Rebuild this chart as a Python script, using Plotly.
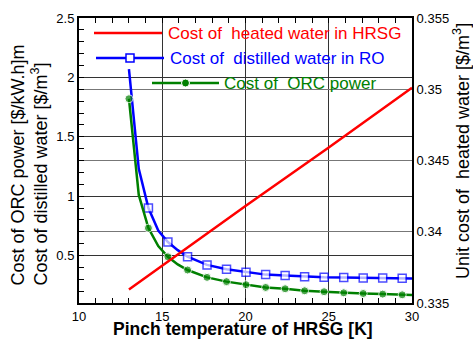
import plotly.graph_objects as go

# ---------------- data ----------------
pinch_ro = [13, 13.59, 14.17, 14.76, 15.34, 15.93, 16.52, 17.69, 18.86, 20.03, 21.21,
            22.38, 23.55, 24.72, 25.9, 27.07, 28.24, 29.41, 30]
cost_ro = [2.07, 1.23, 0.90, 0.71, 0.613, 0.545, 0.49, 0.421, 0.384, 0.359, 0.339,
           0.331, 0.322, 0.316, 0.314, 0.311, 0.311, 0.308, 0.307]
cost_orc = [1.82, 1.01, 0.731, 0.58, 0.489, 0.425, 0.378, 0.316, 0.28, 0.254, 0.231,
            0.22, 0.203, 0.195, 0.186, 0.18, 0.175, 0.169, 0.167]
marker_ro = [0, 0, 1, 0, 1, 0, 1, 1, 1, 1, 1, 1, 1, 1, 1, 1, 1, 1, 0]
marker_orc = [1, 0, 1, 0, 1, 0, 1, 1, 1, 1, 1, 1, 1, 1, 1, 1, 1, 1, 0]

pinch_hrsg = [13, 20, 25, 30]
cost_hrsg = [0.33594, 0.34181, 0.34591, 0.3501]

x_ticks = [10, 15, 20, 25, 30]
y_left_ticks = [0.5, 1, 1.5, 2, 2.5]
y_right_ticks = [0.335, 0.34, 0.345, 0.35, 0.355]

legend_names = ["Cost of\u00a0 heated water in HRSG",
                "Cost of\u00a0 distilled water in RO",
                "Cost of\u00a0 ORC power"]
RED, BLUE, GREEN = "#ff0000", "#0000ff", "#008000"
FONT = "Liberation Sans, Arial, sans-serif"

W, H = 473, 339
ML, MR, MT, MB = 79, 61, 18, 36
PW, PH = W - ML - MR, H - MT - MB


def px(x):
    return (x - ML) / PW


def py(y):
    return (H - MB - y) / PH


fig = go.Figure()

fig.add_trace(go.Scatter(
    x=pinch_ro, y=cost_ro, mode="lines+markers", name=legend_names[1],
    line=dict(color=BLUE, width=2.5),
    marker=dict(symbol="square", size=[8 * m for m in marker_ro], color="white",
                line=dict(color=BLUE, width=1.5)),
    yaxis="y", showlegend=False))

fig.add_trace(go.Scatter(
    x=pinch_ro, y=cost_orc, mode="lines+markers", name=legend_names[2],
    line=dict(color=GREEN, width=2.5),
    marker=dict(symbol="circle", size=[8 * m for m in marker_orc], color=GREEN,
                line=dict(color="white", width=1)),
    yaxis="y", showlegend=False))

fig.add_trace(go.Scatter(
    x=pinch_hrsg, y=cost_hrsg, mode="lines", name=legend_names[0],
    line=dict(color=RED, width=2.5), yaxis="y2", showlegend=False))

# ---------------- hand-drawn legend (as in the reference) ----------------
shapes = [
    dict(type="rect", xref="paper", yref="paper", x0=px(150), x1=px(375),
         y0=py(96), y1=1, fillcolor="white", line=dict(width=0), layer="below"),
]
rows = [
    (RED, 94, 162, 33, None, 166),
    (BLUE, 96, 164, 58, "square", 168),
    (GREEN, 152, 219, 83, "circle", 222),
]
annotations = []
for (col, xa, xb, yy, mk, xt), name in zip(rows, legend_names):
    shapes.append(dict(type="line", xref="paper", yref="paper", x0=px(xa), x1=px(xb),
                       y0=py(yy), y1=py(yy), line=dict(color=col, width=2.5), layer="above"))
    xm = (xa + xb) / 2
    if mk == "square":
        shapes.append(dict(type="rect", xref="paper", yref="paper",
                           x0=px(xm - 4), x1=px(xm + 4), y0=py(yy + 4), y1=py(yy - 4),
                           fillcolor="white", line=dict(color=col, width=1.5), layer="above"))
    elif mk == "circle":
        shapes.append(dict(type="circle", xref="paper", yref="paper",
                           x0=px(xm - 4), x1=px(xm + 4), y0=py(yy + 4), y1=py(yy - 4),
                           fillcolor=col, line=dict(color="white", width=1), layer="above"))
    annotations.append(dict(xref="paper", yref="paper", x=px(xt), y=py(yy),
                            xanchor="left", yanchor="middle", showarrow=False,
                            text=name, font=dict(size=17, color=col, family=FONT)))

# axis titles
annotations.append(dict(
    xref="paper", yref="paper", x=px(28.5), y=py(165), xanchor="center", yanchor="middle",
    textangle=-90, align="left", showarrow=False,
    text="Cost of ORC power [$/kW.h]m<br>Cost of distilled water [$/m<sup>3</sup>]",
    font=dict(size=18, color="black", family=FONT)))
annotations.append(dict(
    xref="paper", yref="paper", x=px(461), y=py(151), xanchor="center", yanchor="middle",
    textangle=-90, showarrow=False,
    text="Unit cost of\u00a0 heated water [$/m<sup>3</sup>]",
    font=dict(size=18, color="black", family=FONT)))
annotations.append(dict(
    xref="paper", yref="paper", x=px(243), y=py(328.5), xanchor="center", yanchor="middle",
    showarrow=False, text="<b>Pinch temperature of HRSG [K]</b>",
    font=dict(size=17.5, color="black", family=FONT)))

fig.update_layout(
    width=W, height=H,
    margin=dict(l=ML, r=MR, t=MT, b=MB, pad=0),
    paper_bgcolor="white", plot_bgcolor="white",
    font=dict(family=FONT, size=13, color="black"),
    showlegend=False,
    shapes=shapes, annotations=annotations,
    xaxis=dict(
        range=[10, 30], tickvals=x_ticks, ticks="inside", ticklen=5, tickwidth=1,
        tickcolor="black", showline=True, linecolor="black", linewidth=2, mirror="ticks",
        showgrid=True, gridcolor="#333333", gridwidth=1, zeroline=False,
        minor=dict(dtick=1, tick0=10, ticks="inside", ticklen=5, tickcolor="black", showgrid=False),
        tickfont=dict(size=13), automargin=False),
    yaxis=dict(
        range=[0.1, 2.5], tickvals=y_left_ticks, ticks="inside", ticklen=5, tickwidth=1,
        tickcolor="black", showline=True, linecolor="black", linewidth=2, mirror=False,
        showgrid=True, gridcolor="#333333", gridwidth=1, zeroline=False,
        minor=dict(dtick=0.1, tick0=0, ticks="inside", ticklen=5, tickcolor="black", showgrid=False),
        tickfont=dict(size=13), automargin=False),
    yaxis2=dict(
        range=[0.335, 0.355], tickvals=y_right_ticks, overlaying="y", side="right",
        ticks="", showline=True, linecolor="black", linewidth=2,
        showgrid=True, gridcolor="#777777", gridwidth=1, zeroline=False,
        tickfont=dict(size=13), automargin=False),
)

fig.write_html("out.html", config={"displayModeBar": False},
               post_script="document.body.style.margin='0';document.body.style.overflow='hidden';")
